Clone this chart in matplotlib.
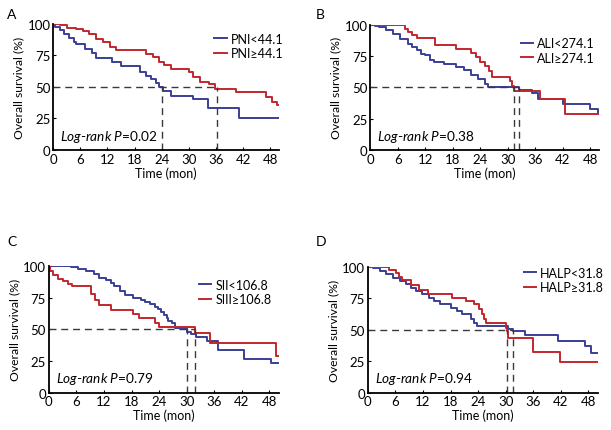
import matplotlib
matplotlib.use('Agg')
import matplotlib.pyplot as plt

plt.rcParams['font.family'] = ['Lato', 'DejaVu Sans']
plt.rcParams['mathtext.fontset'] = 'custom'
plt.rcParams['mathtext.it'] = 'Lato:italic'
plt.rcParams['mathtext.rm'] = 'Lato'

BLUE = '#3b3f97'
RED = '#c1272d'

# --- panel A: PNI ---
a_low_t = [0, 0.5, 1.5, 2.5, 3.5, 4.5, 5.0, 7.0, 8.5, 9.5, 13.0, 15.0, 19.3, 20.5, 21.7, 22.7, 23.4, 24.2, 26.0, 31.0, 34.3, 41.2, 50]
a_low_s = [100, 98, 95, 92, 89, 86, 84, 80, 77, 73, 70, 67, 62, 59, 56, 53, 50, 47, 43, 40.5, 33, 25, 25]
a_high_t = [0, 1.5, 3.0, 5.0, 6.5, 8.0, 9.5, 11.0, 12.5, 14.0, 20.5, 22.0, 23.5, 24.5, 26.0, 30.0, 31.0, 32.5, 34.5, 35.7, 40.4, 47.0, 48.5, 49.5, 50]
a_high_s = [100, 99, 97, 96, 94.5, 92, 88, 85.5, 82, 79, 76.5, 73.5, 70, 67.5, 64, 62, 58, 54, 52.5, 48.5, 46, 42, 38, 36, 36]
a_median = [24.0, 36.2]

# --- panel B: ALI ---
b_low_t = [0, 1.0, 2.0, 3.5, 5.0, 6.5, 8.3, 9.0, 10.2, 11.0, 12.0, 13.0, 13.9, 16.0, 18.7, 20.5, 22.0, 23.5, 25.0, 25.7, 32.4, 35.2, 36.7, 42.0, 48.0, 49.6, 50]
b_low_s = [100, 99, 98, 95.5, 92.8, 88.8, 84.8, 82, 79.5, 77, 75.5, 72, 70, 68.5, 66, 63.5, 59.5, 56.8, 52.8, 50.3, 47.5, 45.5, 41, 37, 33, 29, 29]
b_high_t = [0, 7.6, 8.2, 9.0, 10.2, 14.2, 18.6, 22.0, 23.0, 24.0, 25.0, 26.0, 26.5, 30.5, 31.0, 31.3, 37.0, 42.5, 50]
b_high_s = [100, 97, 94, 91.5, 89.5, 84, 81, 77.5, 74, 70.5, 67, 63, 58.5, 55, 51, 47, 40.8, 29, 29]
b_median = [31.3, 32.4]

# --- panel C: SII ---
c_low_t = [0, 4.9, 6.3, 8.0, 9.8, 11.0, 12.5, 13.5, 14.2, 15.4, 16.5, 18.2, 20.0, 21.0, 22.0, 23.0, 23.7, 24.4, 25.0, 25.6, 26.0, 26.8, 27.5, 30.1, 31.0, 32.0, 34.5, 36.7, 42.5, 48.3, 50]
c_low_s = [100, 99, 98, 96.3, 93.7, 91, 89, 87, 84, 80, 77, 75, 73.6, 72, 70, 68, 66, 64, 61.5, 59, 57, 55, 51, 48, 46, 44, 40.5, 34, 26.5, 23.5, 23.5]
c_high_t = [0, 0.2, 1.0, 2.0, 3.0, 4.2, 5.0, 9.2, 10.0, 11.0, 13.5, 18.3, 19.7, 23.0, 24.0, 31.8, 35.0, 49.5, 50]
c_high_s = [100, 96, 93, 90, 88, 86, 84.5, 78, 73, 69.5, 65.5, 62, 59, 55, 52, 47, 39, 29, 29]
c_median = [30.1, 31.8]

# --- panel D: HALP ---
d_low_t = [0, 1.2, 2.6, 4.0, 5.5, 6.9, 8.3, 9.4, 10.4, 11.9, 13.3, 14.4, 15.8, 18.0, 19.5, 20.6, 22.4, 23.1, 23.8, 30.6, 31.7, 34.2, 41.4, 47.2, 48.6, 50]
d_low_s = [100, 98.7, 96.6, 94, 91.3, 88.6, 86, 83, 80.7, 78, 75.4, 72.8, 70, 67.5, 64.8, 62, 58.2, 55.5, 52.9, 50.5, 48.9, 45.8, 41, 37, 31.7, 31.7]
d_high_t = [0, 4.7, 6.1, 6.8, 7.5, 9.3, 11.1, 13.2, 18.4, 21.3, 23.1, 24.2, 24.9, 25.3, 25.7, 30.0, 30.3, 30.6, 36.0, 41.8, 50]
d_high_s = [100, 97.4, 94.7, 92, 89.4, 85.4, 81.5, 78, 75.4, 72.8, 70, 66, 62, 58.2, 55.5, 51.6, 48.9, 43.6, 32.5, 24.6, 24.6]
d_median = [30.3, 31.7]

fig = plt.figure(figsize=(6.11, 4.31), dpi=100)


def panel(rect, letter, lx, ly, low, high, labels, medians, pval, leg_anchor):
    ax = fig.add_axes(rect)
    ax.step(low[0], low[1], where='post', color=BLUE, lw=1.4, label=labels[0])
    ax.step(high[0], high[1], where='post', color=RED, lw=1.4, label=labels[1])
    # median guide lines
    ax.plot([0, max(medians)], [50, 50], color='#3a3a3a', lw=1.0, ls=(0, (5, 3.5)))
    for m in medians:
        ax.plot([m, m], [0, 50], color='#3a3a3a', lw=1.0, ls=(0, (5, 3.5)))
    ax.set_xlim(0, 50)
    ax.set_ylim(0, 100)
    ax.set_xticks(range(0, 49, 6))
    ax.set_yticks([0, 25, 50, 75, 100])
    ax.spines['top'].set_visible(False)
    ax.spines['right'].set_visible(False)
    ax.spines['left'].set_linewidth(1.3)
    ax.spines['bottom'].set_linewidth(1.3)
    ax.tick_params(direction='in', length=2, width=0.8, labelsize=9.5, pad=2)
    ax.set_xlabel('Time (mon)', fontsize=9, labelpad=1)
    ax.set_ylabel('Overall survival (%)', fontsize=8.7, labelpad=2)
    ax.text(1.5, 8, r'$\mathit{Log}$-$\mathit{rank}$ $\mathit{P}$=' + pval, fontsize=9.8)
    ax.legend(loc='upper right', bbox_to_anchor=leg_anchor, frameon=False,
              fontsize=9, handlelength=1.0, handletextpad=0.3,
              labelspacing=0.2, borderaxespad=0.0)
    fig.text(lx, ly, letter, fontsize=10)
    return ax


panel([0.087, 0.650, 0.37, 0.292], 'A', 0.012, 0.955, (a_low_t, a_low_s), (a_high_t, a_high_s),
      ['PNI<44.1', 'PNI\u226544.1'], a_median, '0.02', (1.04, 0.97))
panel([0.606, 0.650, 0.375, 0.290], 'B', 0.517, 0.955, (b_low_t, b_low_s), (b_high_t, b_high_s),
      ['ALI<274.1', 'ALI\u2265274.1'], b_median, '0.38', (1.0, 0.94))
panel([0.080, 0.087, 0.376, 0.293], 'C', 0.012, 0.43, (c_low_t, c_low_s), (c_high_t, c_high_s),
      ['SII<106.8', 'SIII\u2265106.8'], c_median, '0.79', (0.99, 0.94))
panel([0.602, 0.087, 0.376, 0.292], 'D', 0.517, 0.43, (d_low_t, d_low_s), (d_high_t, d_high_s),
      ['HALP<31.8', 'HALP\u226531.8'], d_median, '0.94', (1.05, 1.04))

fig.savefig('out.png', dpi=100)
